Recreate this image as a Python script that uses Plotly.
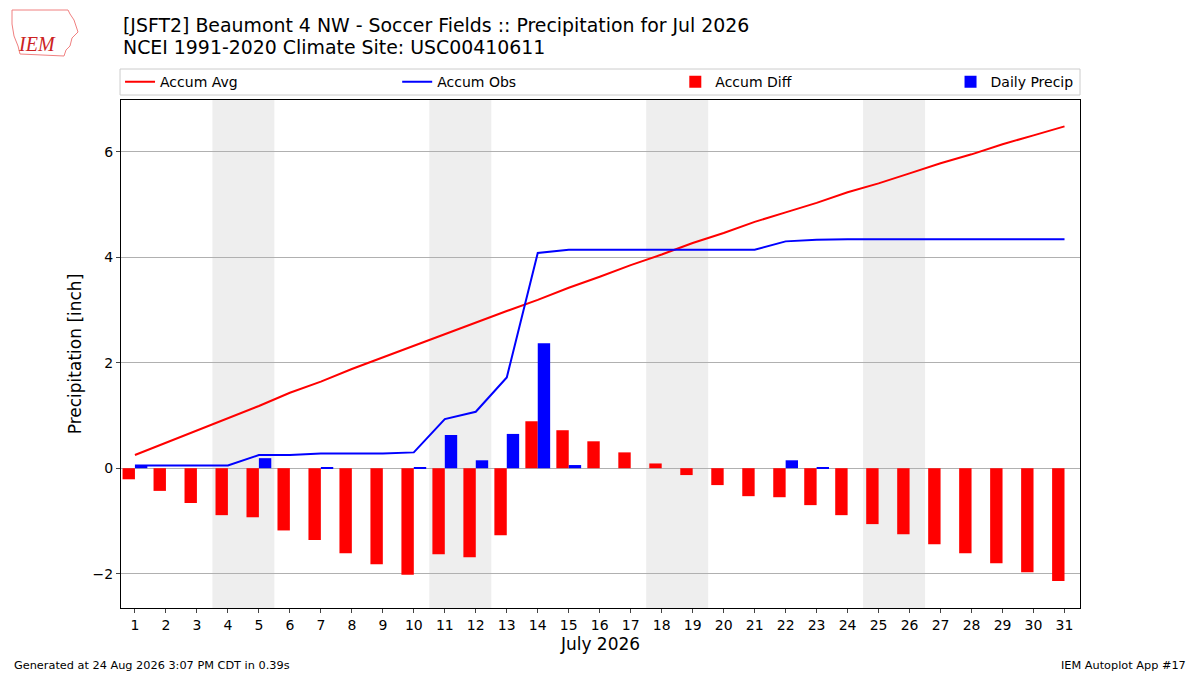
import plotly.graph_objects as go

# --- data ---
days = list(range(1, 32))
accum_avg = [0.25, 0.48, 0.71, 0.94, 1.18, 1.43, 1.64, 1.88, 2.10, 2.32,
             2.55, 2.76, 2.98, 3.19, 3.42, 3.63, 3.85, 4.05, 4.27, 4.46,
             4.67, 4.85, 5.03, 5.23, 5.40, 5.59, 5.78, 5.95, 6.14, 6.31, 6.48]
accum_obs = [0.05, 0.05, 0.05, 0.05, 0.25, 0.25, 0.28, 0.28, 0.28, 0.30,
             0.93, 1.07, 1.72, 4.08, 4.14, 4.14, 4.14, 4.14, 4.14, 4.14,
             4.14, 4.30, 4.33, 4.34, 4.34, 4.34, 4.34, 4.34, 4.34, 4.34, 4.34]
accum_diff = [-0.21, -0.43, -0.66, -0.89, -0.93, -1.18, -1.36, -1.61, -1.82, -2.02,
              -1.63, -1.69, -1.27, 0.89, 0.72, 0.51, 0.30, 0.09, -0.13, -0.32,
              -0.53, -0.55, -0.70, -0.89, -1.06, -1.25, -1.44, -1.61, -1.80, -1.97, -2.14]
daily_precip = [0.05, 0, 0, 0, 0.19, 0, 0.02, 0, 0, 0.02,
                0.63, 0.15, 0.65, 2.37, 0.06, 0, 0, 0, 0, 0,
                0, 0.15, 0.02, 0, 0, 0, 0, 0, 0, 0, 0]
weekend_starts = [4, 11, 18, 25]

FONT = "DejaVu Sans"

fig = go.Figure()

fig.add_trace(go.Scatter(x=days, y=accum_avg, mode="lines", name="Accum Avg",
                         line=dict(color="red", width=2), legend="legend"))
fig.add_trace(go.Scatter(x=days, y=accum_obs, mode="lines", name="Accum Obs",
                         line=dict(color="blue", width=2), legend="legend2"))
fig.add_trace(go.Bar(x=days, y=accum_diff, name="Accum Diff", marker_color="red",
                     marker_line_width=0, width=0.4, offset=-0.4, legend="legend3"))
fig.add_trace(go.Bar(x=days, y=daily_precip, name="Daily Precip", marker_color="blue",
                     marker_line_width=0, width=0.4, offset=0, legend="legend4"))

# weekend shading
for d in weekend_starts:
    fig.add_shape(type="rect", xref="x", yref="paper", x0=d - 0.5, x1=d + 1.5,
                  y0=0, y1=1, fillcolor="#eeeeee", line_width=0, layer="below")

# legend frame spanning the plot width
fig.add_shape(type="rect", xref="paper", yref="paper", x0=-0.001, x1=1.0,
              y0=1.0098, y1=1.061, line=dict(color="#cccccc", width=1),
              fillcolor="rgba(0,0,0,0)", layer="above")

# rough Iowa outline for the logo
fig.add_shape(type="path", xref="paper", yref="paper", xsizemode="pixel",
              ysizemode="pixel", xanchor=0, yanchor=1,
              path="M -109 90 L -53 90 L -51 86 L -47 80 L -45 74 L -43 68 L -49 62 "
                   "L -51 54 L -55 50 L -57 44 L -101 46 L -103 54 L -107 64 L -109 76 Z",
              line=dict(color="#f08080", width=1), fillcolor="rgba(0,0,0,0)")

leg = dict(orientation="h", y=1.035, yanchor="middle", xanchor="left",
           bgcolor="rgba(0,0,0,0)", borderwidth=0, font=dict(size=14))
fig.update_layout(
    width=1200, height=675,
    margin=dict(l=113, r=128, t=92, b=75),
    paper_bgcolor="white", plot_bgcolor="white",
    font=dict(family=FONT, size=14, color="black"),
    barmode="overlay",
    showlegend=True,
    legend=dict(leg, x=-0.001),
    legend2=dict(leg, x=0.288),
    legend3=dict(leg, x=0.578),
    legend4=dict(leg, x=0.865),
)

fig.update_xaxes(range=[0.55, 31.5], tickmode="array", tickvals=days,
                 ticktext=[str(d) for d in days], ticks="outside", ticklen=4,
                 showgrid=False, zeroline=False, showline=True, linecolor="black",
                 linewidth=1, mirror=True,
                 title=dict(text="July 2026", font=dict(size=17), standoff=6))
fig.update_yaxes(range=[-2.65, 6.98], tickvals=[-2, 0, 2, 4, 6], ticks="outside",
                 ticklen=4, showgrid=True, gridcolor="#b0b0b0", gridwidth=1,
                 zeroline=False, showline=True, linecolor="black", linewidth=1,
                 mirror=True, tickformat="d",
                 title=dict(text="Precipitation [inch]", font=dict(size=17), standoff=6))

# titles
fig.add_annotation(xref="paper", yref="paper", x=0, y=1.0, yshift=75, xanchor="left",
                   yanchor="middle", showarrow=False, align="left",
                   text="[JSFT2] Beaumont 4 NW - Soccer Fields :: Precipitation for Jul 2026",
                   font=dict(size=18.9))
fig.add_annotation(xref="paper", yref="paper", x=0, y=1.0, yshift=53, xanchor="left",
                   yanchor="middle", showarrow=False, align="left",
                   text="NCEI 1991-2020 Climate Site: USC00410611", font=dict(size=18.9))

# logo text
fig.add_annotation(xref="paper", yref="paper", x=0, xshift=-84, y=1.0, yshift=56,
                   xanchor="center", yanchor="middle", showarrow=False, text="<i>IEM</i>",
                   font=dict(family="Liberation Serif", size=20, color="#cc2222"))

# footer
fig.add_annotation(xref="paper", yref="paper", x=0, xshift=-109, y=0, yshift=-57,
                   xanchor="left", yanchor="middle", showarrow=False,
                   text="Generated at 24 Aug 2026 3:07 PM CDT in 0.39s", font=dict(size=11.3))
fig.add_annotation(xref="paper", yref="paper", x=1, xshift=108, y=0, yshift=-57,
                   xanchor="right", yanchor="middle", showarrow=False,
                   text="IEM Autoplot App #17", font=dict(size=11.3))

fig.write_html("out.html")
